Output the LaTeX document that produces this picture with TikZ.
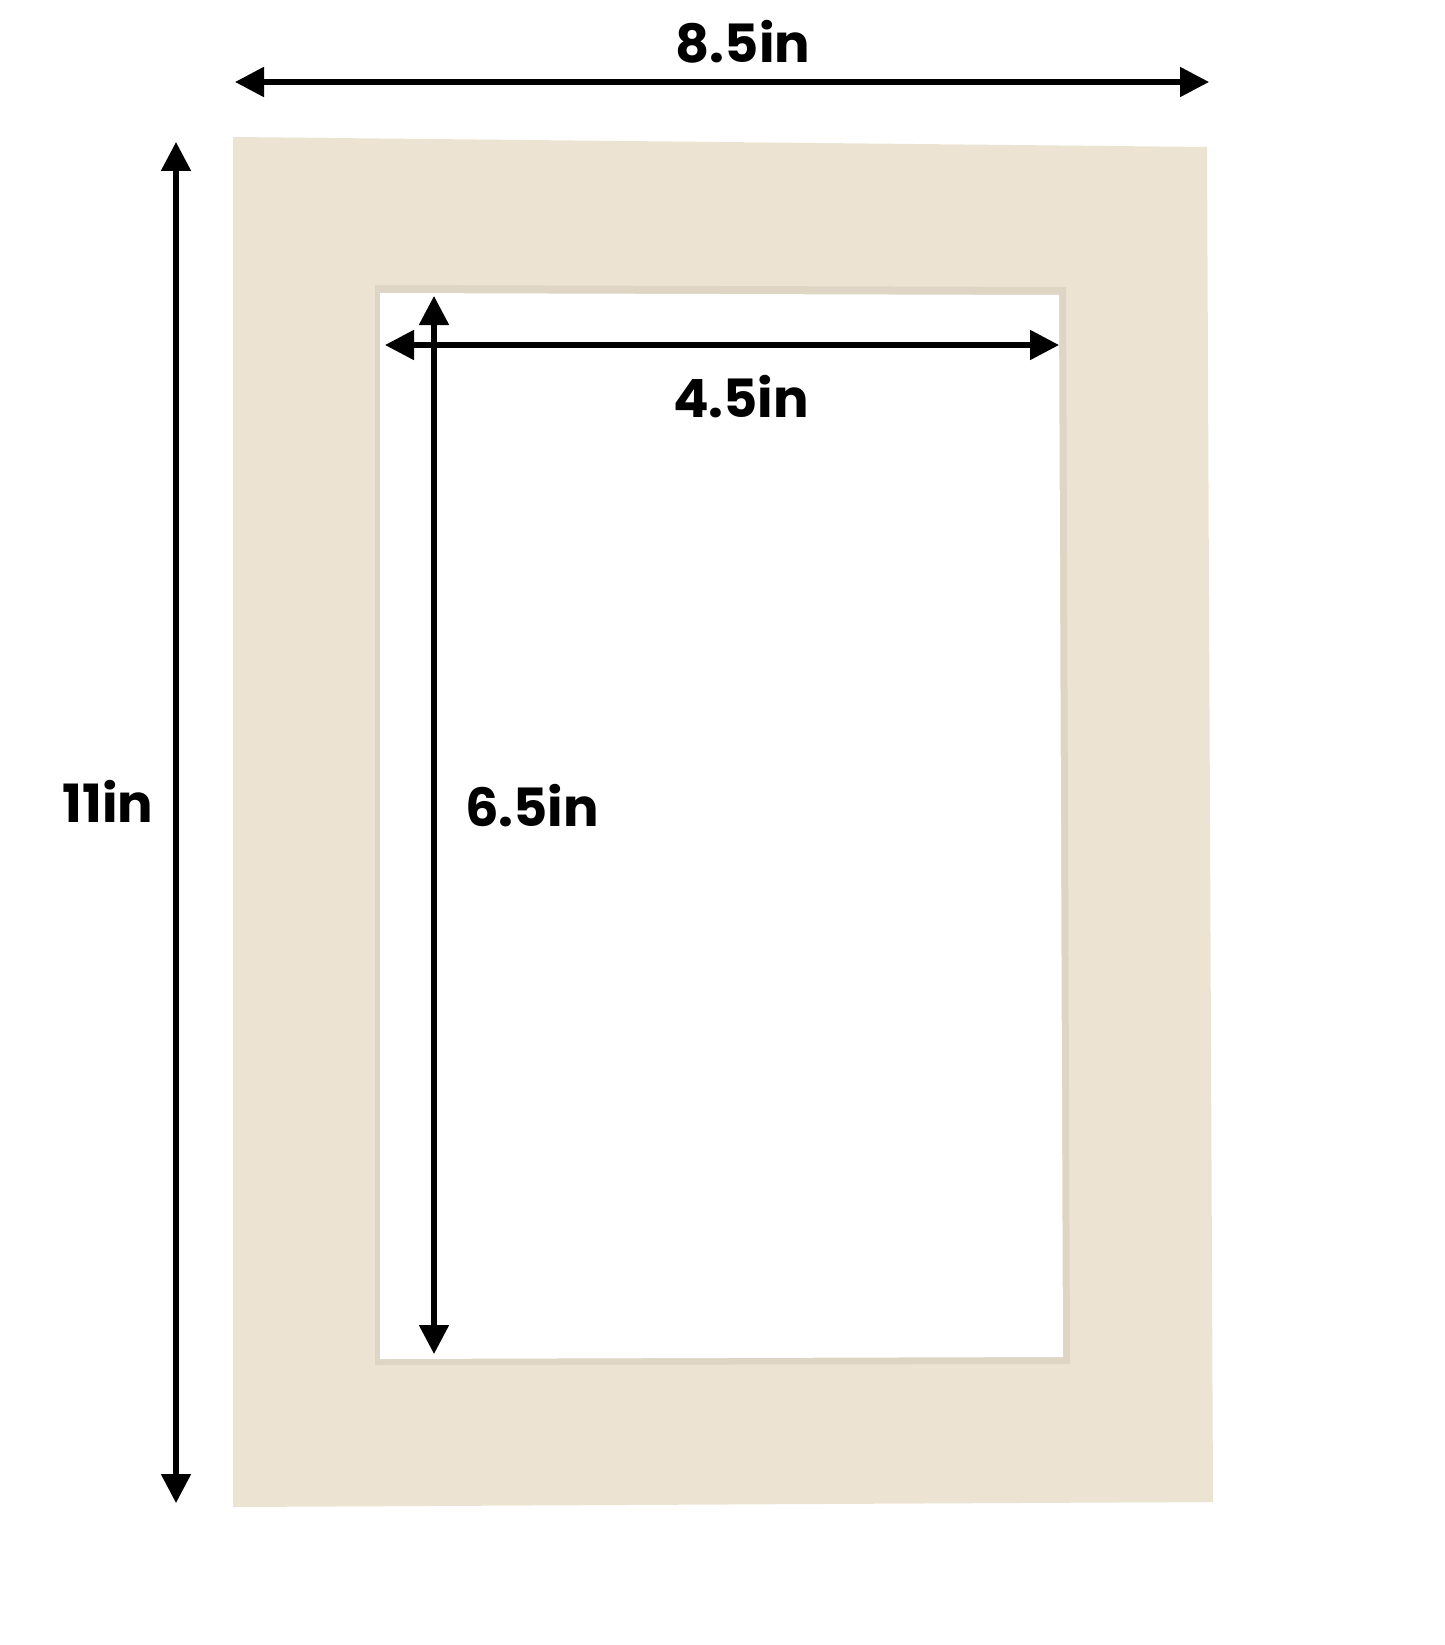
\documentclass[tikz,border=0pt]{standalone}
\usepackage{fontspec}
\setmainfont{Poppins}
\usepackage{tikz}
\usetikzlibrary{arrows.meta}
\definecolor{matcream}{HTML}{ECE3D3}
\definecolor{matbevel}{HTML}{DFD5C5}

\begin{document}
\begin{tikzpicture}[
    x=0.05cm, y=-0.05cm,
    dimarrow/.style={{Triangle[length=1.45cm,width=1.45cm]}-{Triangle[length=1.45cm,width=1.45cm]}, line width=0.26cm},
    lbl/.style={font=\fontsize{75}{75}\selectfont\bfseries, anchor=base, inner sep=0pt}
]
\useasboundingbox (0,0) rectangle (1445,1645);

% Mat board
\fill[matcream] (233,137) -- (1207,147) -- (1213,1502) -- (233,1507) -- cycle;
\fill[matbevel] (375,285) -- (1066,287) -- (1070,1364) -- (375,1365) -- cycle;
\fill[white] (380,293) -- (1059,295) -- (1063,1357) -- (380,1359) -- cycle;

% Arrow ends
\coordinate (outerL) at (235,82);
\coordinate (outerR) at (1209,82);
\coordinate (outerT) at (176,142);
\coordinate (outerB) at (176,1503);
\coordinate (innerL) at (385,345);
\coordinate (innerR) at (1059,345);
\coordinate (innerT) at (434,296);
\coordinate (innerB) at (434,1354);

% Dimension arrows
\draw[dimarrow] (outerL) -- (outerR);
\draw[dimarrow] (outerT) -- (outerB);
\draw[dimarrow] (innerL) -- (innerR);
\draw[dimarrow] (innerT) -- (innerB);

% Labels
\node[lbl] (wOuter) at (743,63) {8.5in};
\node[lbl] (wInner) at (741,417) {4.5in};
\node[lbl] (hOuter) at (108,822) {11in};
\node[lbl] (hInner) at (532,826) {6.5in};
\end{tikzpicture}
\end{document}
